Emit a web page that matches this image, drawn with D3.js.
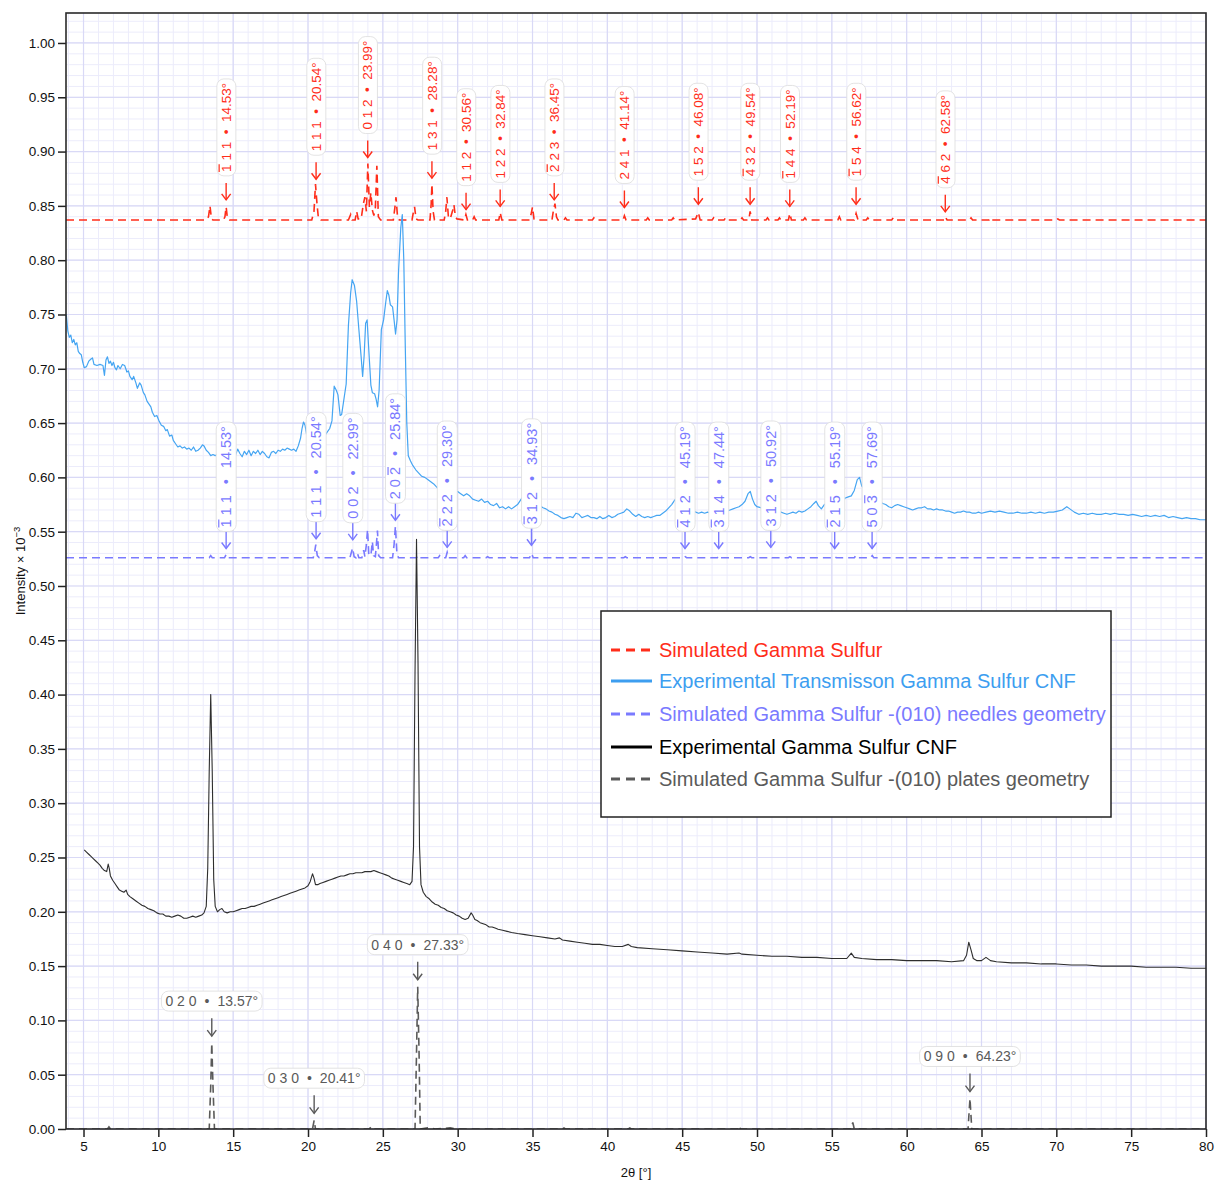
<!DOCTYPE html>
<html><head><meta charset="utf-8">
<script src="https://cdn.jsdelivr.net/npm/d3@7"></script>
<style>
body{margin:0;background:#fff;}
svg text{font-family:"Liberation Sans",Arial,Helvetica,sans-serif;}
</style></head><body>
<svg id="chart" width="1215" height="1183"></svg>
<script>
// ---------- DATA ----------
const xDomain = [3.83, 80];
const yDomain = [0, 1.0276];
const xTickValues = [5,10,15,20,25,30,35,40,45,50,55,60,65,70,75,80];
const yTickValues = [0,0.05,0.10,0.15,0.20,0.25,0.30,0.35,0.40,0.45,0.50,0.55,0.60,0.65,0.70,0.75,0.80,0.85,0.90,0.95,1.00];
const xTitle = "2θ [°]";
const yTitle = "Intensity × 10";
const yTitleExp = "−3";

const seriesNames = [
  "Simulated Gamma Sulfur",
  "Experimental Transmisson Gamma Sulfur CNF",
  "Simulated Gamma Sulfur -(010) needles geometry",
  "Experimental Gamma Sulfur CNF",
  "Simulated Gamma Sulfur -(010) plates geometry"
];

const redSim = [
[3.83,0.837],[13.2,0.837],[13.35,0.840],[13.45,0.850],[13.55,0.838],[13.65,0.837],
[14.35,0.837],[14.45,0.840],[14.53,0.849],[14.62,0.838],[14.75,0.837],
[20.25,0.837],[20.4,0.845],[20.5,0.870],[20.6,0.852],[20.7,0.838],[20.85,0.837],
[22.7,0.837],[22.85,0.842],[22.95,0.837],
[23.15,0.837],[23.25,0.845],[23.35,0.838],
[23.55,0.838],[23.7,0.852],[23.8,0.858],[23.9,0.845],[24.0,0.889],[24.1,0.849],[24.2,0.862],[24.3,0.846],[24.4,0.841],[24.5,0.848],[24.6,0.887],[24.7,0.840],[24.85,0.837],
[25.7,0.837],[25.8,0.848],[25.88,0.858],[25.98,0.840],[26.1,0.837],
[26.95,0.837],[27.05,0.845],[27.12,0.849],[27.22,0.838],[27.35,0.837],
[28.15,0.837],[28.23,0.852],[28.28,0.870],[28.36,0.845],[28.45,0.837],
[29.1,0.837],[29.2,0.845],[29.28,0.858],[29.38,0.840],[29.5,0.838],[29.65,0.845],[29.75,0.851],[29.85,0.840],[29.95,0.838],
[30.45,0.837],[30.55,0.842],[30.65,0.837],
[31.0,0.837],[31.1,0.840],[31.2,0.837],
[32.75,0.837],[32.84,0.844],[32.95,0.837],
[34.8,0.837],[34.9,0.842],[35.0,0.849],[35.1,0.838],[35.25,0.837],
[36.3,0.837],[36.4,0.846],[36.5,0.852],[36.6,0.840],[36.7,0.837],
[37.1,0.837],[37.2,0.839],[37.3,0.837],
[39.0,0.837],[39.1,0.839],[39.2,0.837],
[41.05,0.837],[41.14,0.841],[41.25,0.837],
[42.6,0.837],[42.7,0.839],[42.8,0.837],
[44.3,0.837],[44.4,0.839],[44.5,0.837],
[45.9,0.838],[46.08,0.844],[46.2,0.837],
[47.0,0.837],[47.1,0.839],[47.2,0.837],
[47.8,0.837],[47.9,0.839],[48.0,0.837],
[48.9,0.837],[49.0,0.839],[49.1,0.837],
[49.45,0.837],[49.54,0.845],[49.65,0.837],
[50.6,0.837],[50.7,0.839],[50.8,0.837],
[51.4,0.837],[51.5,0.839],[51.6,0.837],
[52.1,0.837],[52.19,0.843],[52.3,0.837],
[53.1,0.837],[53.2,0.839],[53.3,0.837],
[55.4,0.837],[55.5,0.840],[55.6,0.837],
[56.5,0.837],[56.62,0.843],[56.75,0.837],
[57.3,0.837],[57.4,0.839],[57.5,0.837],
[59.0,0.837],[59.1,0.839],[59.2,0.837],
[62.5,0.837],[62.58,0.840],[62.7,0.837],
[64.2,0.837],[64.3,0.839],[64.4,0.837],
[65.5,0.837],[65.6,0.839],[65.7,0.837],
[70.0,0.837],[70.1,0.838],[70.2,0.837],
[80,0.837]
];

const blueExp = [
[3.85,0.750],[3.95,0.735],[4.05,0.729],[4.15,0.731],[4.25,0.724],[4.35,0.727],[4.45,0.722],[4.55,0.724],[4.65,0.716],[4.75,0.714],[4.85,0.713],[4.95,0.706],[5.05,0.701],[5.2,0.702],[5.35,0.707],[5.5,0.709],[5.6,0.710],[5.7,0.704],[5.9,0.703],[6.1,0.704],[6.3,0.703],[6.4,0.694],[6.5,0.708],[6.6,0.711],[6.7,0.705],[6.8,0.707],[6.9,0.703],[7.0,0.706],[7.1,0.701],[7.2,0.699],[7.3,0.703],[7.45,0.700],[7.6,0.704],[7.75,0.703],[7.9,0.697],[8.0,0.698],[8.1,0.693],[8.25,0.690],[8.35,0.693],[8.5,0.687],[8.6,0.682],[8.75,0.687],[8.85,0.685],[9.0,0.678],[9.1,0.676],[9.25,0.670],[9.4,0.667],[9.5,0.665],[9.6,0.660],[9.75,0.656],[9.9,0.657],[10.05,0.652],[10.2,0.648],[10.35,0.647],[10.5,0.643],[10.6,0.644],[10.75,0.638],[10.9,0.639],[11.0,0.634],[11.15,0.631],[11.3,0.628],[11.45,0.629],[11.6,0.627],[11.75,0.628],[11.9,0.626],[12.05,0.627],[12.2,0.625],[12.35,0.628],[12.5,0.624],[12.65,0.625],[12.8,0.627],[12.95,0.630],[13.05,0.629],[13.2,0.625],[13.35,0.623],[13.5,0.620],[13.65,0.621],[13.8,0.620],[14.0,0.622],[14.2,0.620],[14.4,0.623],[14.6,0.625],[14.8,0.621],[15.0,0.624],[15.15,0.620],[15.3,0.626],[15.45,0.622],[15.6,0.619],[15.75,0.624],[15.9,0.621],[16.05,0.625],[16.2,0.620],[16.35,0.624],[16.5,0.622],[16.65,0.625],[16.8,0.621],[16.95,0.624],[17.1,0.622],[17.25,0.619],[17.4,0.618],[17.55,0.623],[17.7,0.624],[17.85,0.622],[18.0,0.625],[18.15,0.624],[18.3,0.626],[18.45,0.625],[18.6,0.627],[18.75,0.626],[18.9,0.625],[19.05,0.626],[19.2,0.624],[19.35,0.629],[19.5,0.636],[19.6,0.645],[19.7,0.651],[19.8,0.648],[19.9,0.640],[20.0,0.645],[20.2,0.648],[20.5,0.652],[20.8,0.640],[21.0,0.636],[21.2,0.640],[21.45,0.645],[21.6,0.652],[21.75,0.684],[21.9,0.680],[22.0,0.676],[22.15,0.657],[22.25,0.658],[22.4,0.672],[22.55,0.686],[22.7,0.740],[22.85,0.770],[22.95,0.782],[23.1,0.777],[23.25,0.762],[23.4,0.736],[23.55,0.711],[23.65,0.693],[23.75,0.712],[23.85,0.742],[23.95,0.745],[24.05,0.720],[24.2,0.685],[24.3,0.678],[24.45,0.677],[24.55,0.672],[24.65,0.665],[24.75,0.680],[24.9,0.736],[25.05,0.745],[25.2,0.762],[25.3,0.772],[25.4,0.768],[25.5,0.759],[25.65,0.757],[25.75,0.745],[25.85,0.732],[25.95,0.745],[26.05,0.790],[26.2,0.830],[26.3,0.842],[26.4,0.800],[26.5,0.720],[26.6,0.650],[26.7,0.620],[26.85,0.615],[27.0,0.611],[27.2,0.607],[27.4,0.604],[27.6,0.601],[27.8,0.600],[28.0,0.598],[28.2,0.596],[28.4,0.594],[28.6,0.591],[28.8,0.588],[29.0,0.586],[29.2,0.584],[29.4,0.582],[29.6,0.588],[29.8,0.587],[30.0,0.587],[30.2,0.585],[30.4,0.583],[30.6,0.585],[30.8,0.583],[31.0,0.580],[31.2,0.579],[31.4,0.578],[31.6,0.580],[31.8,0.577],[32.0,0.578],[32.2,0.575],[32.4,0.574],[32.6,0.576],[32.8,0.572],[33.0,0.573],[33.2,0.571],[33.4,0.573],[33.6,0.571],[33.8,0.573],[34.0,0.575],[34.2,0.579],[34.4,0.583],[34.7,0.586],[34.9,0.588],[35.1,0.582],[35.3,0.578],[35.5,0.574],[35.7,0.572],[35.9,0.571],[36.1,0.569],[36.3,0.568],[36.5,0.566],[36.7,0.565],[36.9,0.563],[37.1,0.562],[37.3,0.563],[37.5,0.564],[37.7,0.563],[37.9,0.567],[38.1,0.566],[38.3,0.563],[38.5,0.564],[38.7,0.565],[38.9,0.563],[39.1,0.563],[39.3,0.562],[39.5,0.564],[39.7,0.562],[39.9,0.563],[40.1,0.565],[40.3,0.563],[40.5,0.564],[40.7,0.566],[40.9,0.567],[41.1,0.568],[41.3,0.571],[41.5,0.569],[41.7,0.566],[41.9,0.564],[42.1,0.566],[42.3,0.564],[42.5,0.563],[42.7,0.564],[42.9,0.563],[43.1,0.564],[43.3,0.565],[43.5,0.565],[43.7,0.567],[43.9,0.569],[44.1,0.572],[44.3,0.575],[44.5,0.579],[44.7,0.582],[44.9,0.580],[45.1,0.578],[45.3,0.576],[45.5,0.575],[45.7,0.570],[45.9,0.568],[46.1,0.567],[46.3,0.568],[46.5,0.567],[46.7,0.568],[46.9,0.567],[47.1,0.568],[47.3,0.566],[47.5,0.567],[47.8,0.567],[48.0,0.569],[48.2,0.570],[48.4,0.571],[48.6,0.572],[48.8,0.573],[49.0,0.575],[49.2,0.578],[49.4,0.585],[49.55,0.587],[49.7,0.580],[49.85,0.575],[50.0,0.573],[50.3,0.572],[50.6,0.571],[50.9,0.570],[51.2,0.570],[51.4,0.569],[51.6,0.568],[51.8,0.567],[52.0,0.566],[52.2,0.567],[52.4,0.568],[52.6,0.567],[52.8,0.569],[53.0,0.568],[53.2,0.569],[53.4,0.571],[53.6,0.573],[53.8,0.576],[53.95,0.578],[54.1,0.574],[54.3,0.571],[54.5,0.575],[54.8,0.577],[55.1,0.578],[55.4,0.578],[55.7,0.579],[55.9,0.581],[56.1,0.582],[56.3,0.583],[56.5,0.588],[56.7,0.598],[56.85,0.600],[57.0,0.592],[57.3,0.588],[57.6,0.585],[58.0,0.582],[58.2,0.578],[58.4,0.576],[58.6,0.575],[58.8,0.573],[59.0,0.572],[59.2,0.574],[59.4,0.575],[59.6,0.574],[59.8,0.573],[60.0,0.572],[60.2,0.571],[60.4,0.570],[60.6,0.571],[60.8,0.572],[61.0,0.572],[61.2,0.573],[61.4,0.571],[61.6,0.571],[61.8,0.570],[62.0,0.571],[62.2,0.570],[62.4,0.570],[62.6,0.569],[62.8,0.569],[63.0,0.568],[63.2,0.567],[63.4,0.568],[63.6,0.568],[63.8,0.569],[64.0,0.568],[64.2,0.568],[64.4,0.567],[64.6,0.567],[64.8,0.568],[65.0,0.567],[65.3,0.568],[65.6,0.569],[65.9,0.568],[66.2,0.569],[66.5,0.568],[66.8,0.567],[67.1,0.567],[67.4,0.568],[67.7,0.567],[68.0,0.567],[68.3,0.568],[68.6,0.567],[68.9,0.568],[69.2,0.567],[69.5,0.568],[69.8,0.568],[70.1,0.569],[70.4,0.570],[70.7,0.573],[70.9,0.571],[71.2,0.568],[71.5,0.566],[71.8,0.567],[72.1,0.566],[72.4,0.567],[72.7,0.566],[73.0,0.566],[73.3,0.567],[73.6,0.566],[73.9,0.567],[74.2,0.566],[74.5,0.566],[74.8,0.565],[75.1,0.566],[75.4,0.565],[75.7,0.564],[76.0,0.565],[76.3,0.564],[76.6,0.565],[76.9,0.564],[77.2,0.565],[77.5,0.563],[77.8,0.564],[78.1,0.563],[78.4,0.562],[78.7,0.563],[79.0,0.562],[79.3,0.562],[79.6,0.561],[80.0,0.561]
];

const purpleSim = [
[3.83,0.526],[13.4,0.526],[13.5,0.528],[13.6,0.526],
[14.42,0.526],[14.53,0.529],[14.64,0.526],
[20.35,0.526],[20.45,0.532],[20.52,0.538],[20.62,0.528],[20.75,0.526],
[22.8,0.526],[22.9,0.531],[22.98,0.535],[23.08,0.527],[23.2,0.526],
[23.3,0.530],[23.4,0.526],
[23.6,0.526],[23.72,0.533],[23.8,0.527],[23.9,0.538],[23.98,0.552],[24.06,0.529],[24.2,0.528],[24.3,0.541],[24.38,0.528],[24.5,0.527],[24.58,0.540],[24.64,0.551],[24.72,0.528],[24.85,0.526],
[25.65,0.526],[25.75,0.538],[25.84,0.555],[25.94,0.530],[26.05,0.526],
[27.25,0.526],[27.33,0.528],[27.42,0.526],
[28.7,0.526],[28.8,0.528],[28.9,0.526],
[29.2,0.526],[29.3,0.531],[29.4,0.526],
[30.4,0.526],[30.5,0.528],[30.6,0.526],
[31.9,0.526],[32.0,0.527],[32.1,0.526],
[33.4,0.526],[33.5,0.527],[33.6,0.526],
[34.8,0.526],[34.93,0.530],[35.05,0.526],
[36.4,0.526],[36.5,0.527],[36.6,0.526],
[41.1,0.526],[41.2,0.527],[41.3,0.526],
[45.1,0.526],[45.2,0.527],[45.3,0.526],
[47.35,0.526],[47.45,0.528],[47.55,0.526],
[49.45,0.526],[49.55,0.527],[49.65,0.526],
[50.8,0.526],[50.92,0.527],[51.0,0.526],
[52.1,0.526],[52.2,0.527],[52.3,0.526],
[55.1,0.526],[55.2,0.527],[55.3,0.526],
[56.5,0.526],[56.6,0.528],[56.7,0.526],
[57.6,0.526],[57.7,0.528],[57.8,0.526],
[80,0.526]
];

const blackExp = [
[5.05,0.257],[5.2,0.255],[5.35,0.253],[5.5,0.251],[5.65,0.249],[5.8,0.247],[5.95,0.245],[6.1,0.243],[6.25,0.240],[6.4,0.238],[6.55,0.237],[6.65,0.244],[6.72,0.240],[6.8,0.233],[6.95,0.229],[7.1,0.226],[7.25,0.223],[7.4,0.220],[7.55,0.219],[7.7,0.218],[7.85,0.220],[7.95,0.216],[8.1,0.214],[8.3,0.212],[8.5,0.210],[8.7,0.208],[8.9,0.206],[9.1,0.205],[9.3,0.203],[9.5,0.202],[9.7,0.201],[9.9,0.199],[10.1,0.198],[10.3,0.198],[10.5,0.196],[10.7,0.196],[10.9,0.195],[11.1,0.196],[11.3,0.197],[11.5,0.196],[11.7,0.194],[11.9,0.194],[12.1,0.195],[12.3,0.196],[12.5,0.195],[12.7,0.196],[12.9,0.197],[13.05,0.199],[13.2,0.205],[13.3,0.240],[13.4,0.330],[13.5,0.400],[13.6,0.330],[13.7,0.230],[13.8,0.205],[13.95,0.200],[14.1,0.202],[14.25,0.203],[14.4,0.200],[14.6,0.199],[14.8,0.200],[15.0,0.200],[15.2,0.201],[15.4,0.202],[15.6,0.203],[15.8,0.203],[16.0,0.204],[16.2,0.205],[16.4,0.205],[16.6,0.206],[16.8,0.207],[17.0,0.208],[17.2,0.209],[17.4,0.210],[17.6,0.211],[17.8,0.212],[18.0,0.213],[18.2,0.214],[18.4,0.215],[18.6,0.216],[18.8,0.217],[19.0,0.218],[19.2,0.219],[19.4,0.220],[19.6,0.221],[19.8,0.222],[20.0,0.224],[20.15,0.228],[20.3,0.235],[20.4,0.231],[20.5,0.225],[20.65,0.225],[20.8,0.226],[21.0,0.227],[21.2,0.228],[21.4,0.229],[21.6,0.230],[21.8,0.231],[22.0,0.232],[22.2,0.233],[22.4,0.233],[22.6,0.234],[22.8,0.235],[23.0,0.235],[23.2,0.236],[23.4,0.236],[23.6,0.236],[23.8,0.237],[24.0,0.237],[24.2,0.237],[24.4,0.238],[24.6,0.237],[24.8,0.236],[25.0,0.235],[25.2,0.234],[25.4,0.233],[25.6,0.231],[25.8,0.230],[26.0,0.229],[26.2,0.228],[26.4,0.227],[26.6,0.226],[26.8,0.225],[26.95,0.228],[27.05,0.260],[27.15,0.420],[27.25,0.543],[27.35,0.430],[27.45,0.260],[27.55,0.225],[27.7,0.218],[27.9,0.214],[28.1,0.212],[28.3,0.209],[28.5,0.207],[28.7,0.206],[28.9,0.204],[29.1,0.203],[29.3,0.201],[29.5,0.200],[29.7,0.199],[29.9,0.197],[30.1,0.196],[30.3,0.194],[30.5,0.193],[30.7,0.194],[30.9,0.199],[31.0,0.197],[31.15,0.193],[31.3,0.192],[31.5,0.190],[31.7,0.189],[31.9,0.188],[32.1,0.186],[32.3,0.186],[32.5,0.185],[32.7,0.184],[33.0,0.183],[33.3,0.182],[33.6,0.181],[34.0,0.180],[34.5,0.179],[35.0,0.178],[35.5,0.177],[36.0,0.176],[36.5,0.175],[36.8,0.176],[37.0,0.174],[37.5,0.173],[38.0,0.172],[38.5,0.171],[39.0,0.170],[39.5,0.170],[40.0,0.169],[40.5,0.168],[41.0,0.168],[41.4,0.170],[41.6,0.168],[42.0,0.167],[43.0,0.166],[44.0,0.165],[45.0,0.164],[46.0,0.163],[47.0,0.162],[48.0,0.161],[48.8,0.162],[49.0,0.161],[50.0,0.160],[51.0,0.159],[52.0,0.159],[53.0,0.158],[54.0,0.158],[55.0,0.157],[56.0,0.157],[56.3,0.162],[56.5,0.158],[57.0,0.157],[58.0,0.156],[59.0,0.156],[60.0,0.155],[61.0,0.155],[62.0,0.155],[63.0,0.154],[63.8,0.155],[64.0,0.160],[64.15,0.172],[64.3,0.165],[64.45,0.157],[64.7,0.155],[65.0,0.155],[65.3,0.158],[65.6,0.155],[66.0,0.154],[67.0,0.153],[68.0,0.153],[69.0,0.152],[70.0,0.152],[71.0,0.151],[72.0,0.151],[73.0,0.150],[74.0,0.150],[75.0,0.150],[76.0,0.149],[77.0,0.149],[78.0,0.149],[79.0,0.148],[80.0,0.148]
];

const graySim = [
[3.83,0],[6.6,0],[6.7,0.002],[6.8,0],[13.4,0],[13.5,0.04],[13.57,0.079],[13.65,0.04],[13.75,0],
[20.3,0],[20.41,0.008],[20.5,0],[24.1,0],[24.2,0.002],[24.3,0],
[27.15,0],[27.25,0.07],[27.33,0.131],[27.42,0.07],[27.5,0],[28.0,0.001],[28.5,0],[29.5,0.001],[30.0,0],
[37.0,0],[37.1,0.001],[37.2,0],[41.4,0],[41.5,0.001],[41.6,0],[48.7,0],[48.8,0.003],[48.9,0],
[56.3,0],[56.4,0.006],[56.5,0],[64.1,0],[64.23,0.028],[64.35,0],[80,0]
];

// annotations: peak angle, Miller indices (negative = overlined), intensity the arrow points at
const redPeakAngles = [14.53,20.54,23.99,28.28,30.56,32.84,36.45,41.14,46.08,49.54,52.19,56.62,62.58];
const redPeakHKL = [[-1,1,1],[1,1,1],[0,1,2],[1,3,1],[1,1,2],[1,2,2],[-2,2,3],[2,4,1],[1,5,2],[-4,3,2],[-1,4,4],[-1,5,4],[-4,6,2]];
const redPeakTops = [0.850,0.869,0.889,0.870,0.841,0.844,0.850,0.843,0.846,0.846,0.844,0.846,0.839];

const purplePeakAngles = [14.53,20.54,22.99,25.84,29.30,34.93,45.19,47.44,50.92,55.19,57.69];
const purplePeakHKL = [[-1,1,1],[1,1,1],[0,0,2],[2,0,-2],[-2,2,2],[-3,1,2],[-4,1,2],[-3,1,4],[3,1,2],[-2,1,5],[5,0,-3]];
const purplePeakTops = [0.529,0.538,0.537,0.555,0.530,0.532,0.529,0.529,0.530,0.529,0.529];

const grayPeakAngles = [13.57,20.41,27.33,64.23];
const grayPeakHKL = [[0,2,0],[0,3,0],[0,4,0],[0,9,0]];
const grayPeakTops = [0.079,0.008,0.131,0.028];

// ---------- DRAWING ----------
const svg = d3.select("#chart");
const PL = 66, PR = 1206, PT = 13, PB = 1129;
const x = d3.scaleLinear().domain(xDomain).range([PL, PR]);
const y = d3.scaleLinear().domain(yDomain).range([PB, PT]);

const colors = {red:"#ff2d1a", blue:"#45a5f2", purple:"#7a7aff", black:"#2e2e2e", gray:"#5a5a5a"};

svg.append("defs").append("clipPath").attr("id","clip")
  .append("rect").attr("x",PL).attr("y",PT).attr("width",PR-PL).attr("height",PB-PT);

// grid
const grid = svg.append("g");
const minorX = d3.range(Math.ceil(xDomain[0]), xDomain[1]+0.001, 1);
const minorY = d3.range(0, yDomain[1], 0.01);
grid.selectAll(".mx").data(minorX).join("line")
  .attr("x1",d=>x(d)).attr("x2",d=>x(d)).attr("y1",PT).attr("y2",PB)
  .attr("stroke","#ececfb").attr("stroke-width",1);
grid.selectAll(".my").data(minorY).join("line")
  .attr("y1",d=>y(d)).attr("y2",d=>y(d)).attr("x1",PL).attr("x2",PR)
  .attr("stroke","#ececfb").attr("stroke-width",1);
grid.selectAll(".Mx").data(xTickValues).join("line")
  .attr("x1",d=>x(d)).attr("x2",d=>x(d)).attr("y1",PT).attr("y2",PB)
  .attr("stroke","#d9d9f6").attr("stroke-width",1.2);
grid.selectAll(".My").data(yTickValues).join("line")
  .attr("y1",d=>y(d)).attr("y2",d=>y(d)).attr("x1",PL).attr("x2",PR)
  .attr("stroke","#d9d9f6").attr("stroke-width",1.2);

// series
const line = d3.line().x(d=>x(d[0])).y(d=>y(d[1]));
const plot = svg.append("g").attr("clip-path","url(#clip)");
plot.append("path").datum(graySim).attr("d",line).attr("fill","none")
  .attr("stroke",colors.gray).attr("stroke-width",1.6).attr("stroke-dasharray","8,5");
plot.append("path").datum(purpleSim).attr("d",line).attr("fill","none")
  .attr("stroke",colors.purple).attr("stroke-width",1.6).attr("stroke-dasharray","8,5");
plot.append("path").datum(redSim).attr("d",line).attr("fill","none")
  .attr("stroke",colors.red).attr("stroke-width",1.6).attr("stroke-dasharray","8,5");
plot.append("path").datum(blueExp).attr("d",line).attr("fill","none")
  .attr("stroke",colors.blue).attr("stroke-width",1.2).attr("stroke-linejoin","round");
plot.append("path").datum(blackExp).attr("d",line).attr("fill","none")
  .attr("stroke",colors.black).attr("stroke-width",1.1).attr("stroke-linejoin","round");

// axes
const yAxis = svg.append("g").attr("transform",`translate(${PL},0)`)
  .call(d3.axisLeft(y).tickValues(yTickValues).tickFormat(d3.format(".2f")).tickSize(8).tickPadding(3));
const xAxis = svg.append("g").attr("transform",`translate(0,${PB})`)
  .call(d3.axisBottom(x).tickValues(xTickValues).tickFormat(d3.format("d")).tickSize(8).tickPadding(4));
[yAxis,xAxis].forEach(a=>{
  a.select(".domain").remove();
  a.selectAll("line").attr("stroke","#222").attr("stroke-width",1.5);
  a.selectAll("text").attr("font-size",13.5).attr("fill","#111")
    .attr("font-family",'"Liberation Sans",Arial,sans-serif');
});
svg.append("rect").attr("x",PL).attr("y",PT).attr("width",PR-PL).attr("height",PB-PT)
  .attr("fill","none").attr("stroke","#2a2a2a").attr("stroke-width",1.6);

// titles
svg.append("text").attr("x",(PL+PR)/2).attr("y",1177).attr("text-anchor","middle")
  .attr("font-size",13).attr("fill","#111").text(xTitle);
const yt = svg.append("text").attr("transform",`translate(25,${(PT+PB)/2}) rotate(-90)`)
  .attr("text-anchor","middle").attr("font-size",13).attr("fill","#111");
yt.append("tspan").text(yTitle);
yt.append("tspan").attr("dy",-5).attr("font-size",9.5).text(yTitleExp);

// annotation helpers
const labels = svg.append("g");
function arrow(cx, tipY, len, color){
  labels.append("line").attr("x1",cx).attr("x2",cx).attr("y1",tipY-len).attr("y2",tipY)
    .attr("stroke",color).attr("stroke-width",1.4);
  labels.append("path").attr("d",`M${cx-4.5},${tipY-6}L${cx},${tipY}L${cx+4.5},${tipY-6}`)
    .attr("fill","none").attr("stroke",color).attr("stroke-width",1.4);
}
function labelText(g, hkl, angle, color, fs, gap, anchor){
  const t = g.append("text").attr("fill",color).attr("font-size",fs)
    .attr("y",0.35*fs).attr("text-anchor",anchor);
  t.append("tspan").text(hkl.map(Math.abs).join(" "));
  t.append("tspan").attr("dx",gap).text("•");
  t.append("tspan").attr("dx",gap).text(angle.toFixed(2)+"°");
  const node = t.node();
  const bb = node.getBBox();
  g.insert("rect","text").attr("x",bb.x-4).attr("y",bb.y-2).attr("width",bb.width+8).attr("height",bb.height+4)
    .attr("rx",7).attr("fill","#fff").attr("stroke","#dcdcdc").attr("stroke-width",0.8);
  hkl.forEach((d,i)=>{
    if(d<0){
      const s = node.getStartPositionOfChar(2*i), e = node.getEndPositionOfChar(2*i);
      g.append("line").attr("x1",s.x).attr("x2",e.x)
        .attr("y1",-0.37*fs-2).attr("y2",-0.37*fs-2)
        .attr("stroke",color).attr("stroke-width",1.2);
    }
  });
}
function verticalLabels(angles, hkls, tops, color, fs, gap, arrowLen, textGap){
  angles.forEach((a,i)=>{
    const cx = x(a), tipY = y(tops[i]) - 6;
    arrow(cx, tipY, arrowLen, color);
    const g = labels.append("g").attr("transform",`translate(${cx},${tipY-arrowLen-textGap}) rotate(-90)`);
    labelText(g, hkls[i], a, color, fs, gap, "start");
  });
}
verticalLabels(redPeakAngles, redPeakHKL, redPeakTops, colors.red, 13.5, 7.5, 17, 11);
verticalLabels(purplePeakAngles, purplePeakHKL, purplePeakTops, colors.purple, 14.5, 11, 17, 4);
grayPeakAngles.forEach((a,i)=>{
  const cx = x(a), tipY = y(grayPeakTops[i]) - 7;
  arrow(cx, tipY, 18, colors.gray);
  const g = labels.append("g").attr("transform",`translate(${cx},${tipY-18-17})`);
  labelText(g, grayPeakHKL[i], a, colors.gray, 14, 8, "middle");
});

// legend
const lg = svg.append("g");
lg.append("rect").attr("x",601).attr("y",611).attr("width",510).attr("height",206)
  .attr("fill","#fff").attr("stroke","#222").attr("stroke-width",1.5);
const legendColors = [colors.red, "#3d9ef0", colors.purple, "#000", colors.gray];
const legendDash = ["9,6", null, "9,6", null, "9,6"];
const rowY = [650, 681, 714, 747, 779];
seriesNames.forEach((n,i)=>{
  lg.append("line").attr("x1",611).attr("x2",652).attr("y1",rowY[i]).attr("y2",rowY[i])
    .attr("stroke",legendColors[i]).attr("stroke-width",3)
    .attr("stroke-dasharray",legendDash[i]);
  lg.append("text").attr("x",659).attr("y",rowY[i]).attr("dy","0.35em")
    .attr("font-size",20).attr("fill",legendColors[i]).text(n);
});
</script>
</body></html>
